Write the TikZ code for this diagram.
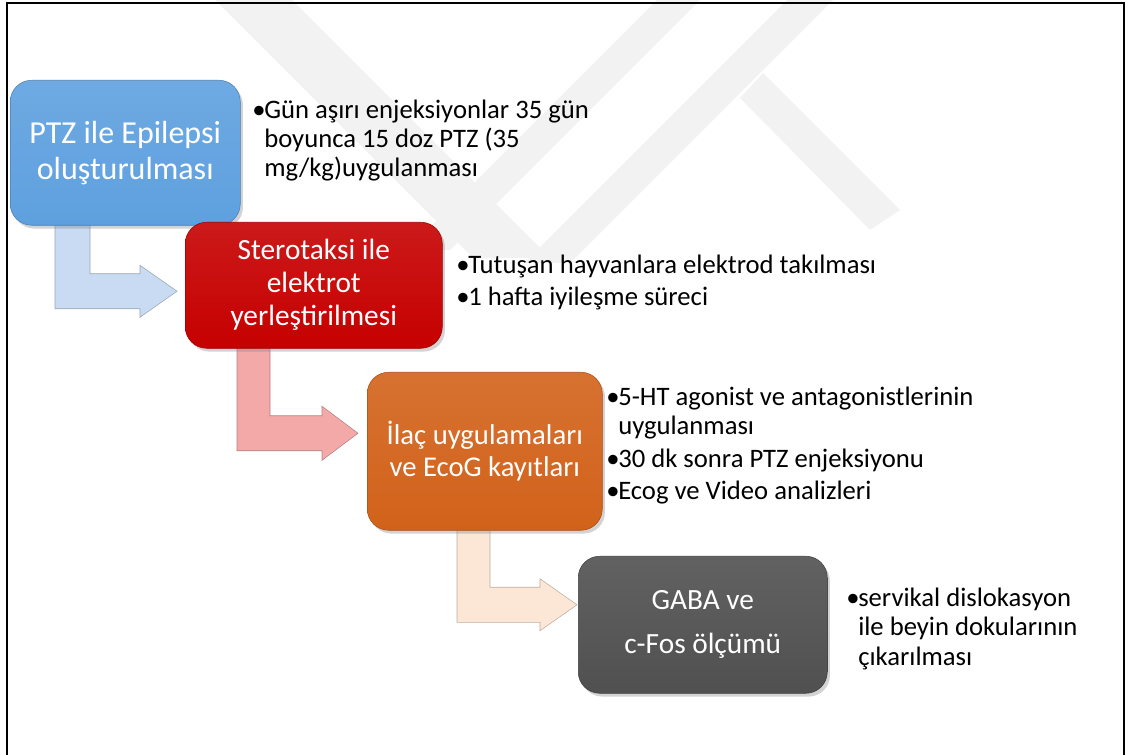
\documentclass[tikz,border=0pt]{standalone}
\usepackage{fontspec}
\setmainfont{Carlito}
\usetikzlibrary{positioning,calc,shadows,backgrounds}
\definecolor{ptzblue}{HTML}{5EA0DF}
\definecolor{sterred}{HTML}{C60000}
\definecolor{ilacorange}{HTML}{D2621A}
\definecolor{gabagray}{HTML}{505050}
\definecolor{arrblue}{HTML}{C9DBF2}
\definecolor{arrpink}{HTML}{F4A9A9}
\definecolor{arrpeach}{HTML}{FCE6D6}
\definecolor{wmgray}{HTML}{F2F2F2}
\newcommand{\bul}{\makebox[9pt][l]{•}}
\newcommand{\ind}{\hspace*{9pt}}

\begin{document}
\begin{tikzpicture}[
    x=0.75pt, y=-0.75pt,
    stage/.style={
        rectangle,
        rounded corners=16pt,
        align=center,
        text=white,
        font=\fontsize{22}{27}\selectfont,
        draw=#1!80!black,
        top color=#1!90!white,
        bottom color=#1,
        drop shadow={shadow xshift=2pt, shadow yshift=-2.5pt, opacity=0.35},
        anchor=north west
    },
    note/.style={
        align=left,
        inner sep=0pt,
        anchor=base west,
        font=\fontsize{20}{22}\selectfont
    },
    bentarrow/.style={
        fill=#1,
        draw=#1!75!black,
        line width=0.4pt,
        line join=miter
    },
    wmark/.style={fill=wmgray}
]
\useasboundingbox (0,0) rectangle (1129,755);

% watermark bands
\fill[wmark] (215,0) -- (292,0) -- (550,258) -- (473,258) -- cycle;
\fill[wmark] (657,0) -- (700,0) -- (450,250) -- (407,250) -- cycle;
\fill[wmark] (787,0) -- (833,0) -- (570,263) -- (524,263) -- cycle;
\fill[wmark] (740,98) -- (763,73) -- (900,210) -- (870,230) -- cycle;

% frame
\draw[line width=1.5pt] (6.5,3.5) rectangle (1124,780);

% stages
\node[stage=ptzblue, font=\fontsize{24}{27}\selectfont,
      minimum width=172.5pt, minimum height=108.75pt] (ptz) at (10,80)
{PTZ ile Epilepsi\\oluşturulması};
\node[stage=sterred, font=\fontsize{22}{24.75}\selectfont,
      minimum width=192.75pt, minimum height=94.5pt] (stereo) at (185,222)
{Sterotaksi ile\\elektrot\\yerleştirilmesi};
\node[stage=ilacorange, font=\fontsize{21.5}{24}\selectfont,
      minimum width=176.25pt, minimum height=118.5pt] (ilac) at (367,372)
{İlaç uygulamaları\\ve EcoG kayıtları};
\node[stage=gabagray, minimum width=186.75pt, minimum height=102.75pt] (gaba) at (578,556)
{GABA ve\\[6pt]c-Fos ölçümü};

% bent arrows between stages
\coordinate (s1) at ($(ptz.south west)+(45,-4)$);
\coordinate (t1) at ($(stereo.west)+(-8,6)$);
\coordinate (s2) at ($(stereo.south west)+(52,-4)$);
\coordinate (t2) at ($(ilac.west)+(-9,-18)$);
\coordinate (s3) at ($(ilac.south west)+(90,-4)$);
\coordinate (t3) at ($(gaba.west)+(-1,-20)$);

\begin{scope}[on background layer]
\draw[bentarrow=arrblue] (s1) -- ($(s1)+(35,0)$) -- ($(s1|-t1)+(35,-17.5)$)
    -- ($(t1)+(-37,-17.5)$) -- ($(t1)+(-37,-26)$) -- (t1) -- ($(t1)+(-37,26)$)
    -- ($(t1)+(-37,17.5)$) -- ($(s1|-t1)+(0,17.5)$) -- cycle;
\draw[bentarrow=arrpink] (s2) -- ($(s2)+(33,0)$) -- ($(s2|-t2)+(33,-17.5)$)
    -- ($(t2)+(-36,-17.5)$) -- ($(t2)+(-36,-27)$) -- (t2) -- ($(t2)+(-36,27)$)
    -- ($(t2)+(-36,17.5)$) -- ($(s2|-t2)+(0,17.5)$) -- cycle;
\draw[bentarrow=arrpeach] (s3) -- ($(s3)+(33,0)$) -- ($(s3|-t3)+(33,-17.5)$)
    -- ($(t3)+(-37,-17.5)$) -- ($(t3)+(-37,-26)$) -- (t3) -- ($(t3)+(-37,26)$)
    -- ($(t3)+(-37,17.5)$) -- ($(s3|-t3)+(0,17.5)$) -- cycle;
\end{scope}

% notes (anchored at the baseline of their last line)
\node[note] (n1) at (252,177)
{\bul Gün aşırı enjeksiyonlar 35 gün\\\ind boyunca 15 doz PTZ (35\\\ind mg/kg)uygulanması};
\node[note] (n2) at (456,306)
{\bul Tutuşan hayvanlara elektrod takılması\\[2.5pt]\bul 1 hafta iyileşme süreci};
\node[note] (n3) at (606,500)
{\bul 5-HT agonist ve antagonistlerinin\\\ind uygulanması\\[2.5pt]\bul 30 dk sonra PTZ enjeksiyonu\\[2.5pt]\bul Ecog ve Video analizleri};
\node[note] (n4) at (846,665)
{\bul servikal dislokasyon\\\ind ile beyin dokularının\\\ind çıkarılması};

\end{tikzpicture}
\end{document}
